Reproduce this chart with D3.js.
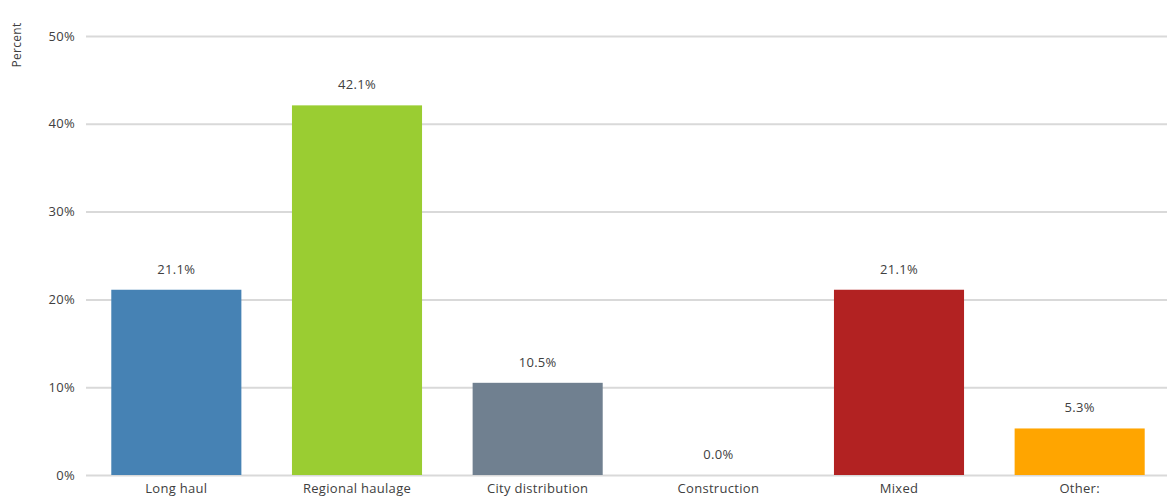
<!DOCTYPE html>
<html>
<head>
<meta charset="utf-8">
<script src="https://cdn.jsdelivr.net/npm/d3@7"></script>
<style>
  body { margin: 0; background: #fff; }
  svg text { font-family: "Open Sans", "Noto Sans", sans-serif; fill: #404040; letter-spacing: 0.3px; }
</style>
</head>
<body>
<svg id="chart" width="1167" height="498"></svg>
<script>
// Share of respondents by type of operation
const categories = ["Long haul", "Regional haulage", "City distribution", "Construction", "Mixed", "Other:"];
const values = [21.1, 42.1, 10.5, 0.0, 21.1, 5.3];
const colors = ["#4682B4", "#9ACD32", "#708090", "#DAA520", "#B22222", "#FFA500"];
const yTicks = [0, 10, 20, 30, 40, 50];

const svg = d3.select("#chart");
const margin = { left: 86, right: -3, top: 36, bottom: 23 };
const W = 1167, H = 498;

const x = d3.scaleBand()
  .domain(categories)
  .range([margin.left, W - margin.right])
  .paddingInner(0.28)
  .paddingOuter(0.14);

const y = d3.scaleLinear()
  .domain([0, 50])
  .range([H - margin.bottom, margin.top]);

// horizontal gridlines with percent labels
const yAxis = d3.axisLeft(y)
  .tickValues(yTicks)
  .tickFormat(d => d + "%")
  .tickSize(-(W - margin.right - margin.left))
  .tickPadding(11);

const gy = svg.append("g")
  .attr("transform", `translate(${margin.left},0)`)
  .call(yAxis);
gy.select(".domain").remove();
gy.selectAll(".tick line").attr("stroke", "#d9d9d9").attr("stroke-width", 2);
gy.selectAll(".tick text").style("font-size", "13px").attr("fill", "#404040");

// bars
svg.append("g").selectAll("rect")
  .data(categories)
  .join("rect")
  .attr("x", d => x(d))
  .attr("width", x.bandwidth())
  .attr("y", (d, i) => y(values[i]))
  .attr("height", (d, i) => y(0) - y(values[i]))
  .attr("fill", (d, i) => colors[i]);

// value labels above each bar
svg.append("g").selectAll("text")
  .data(categories)
  .join("text")
  .attr("x", d => x(d) + x.bandwidth() / 2)
  .attr("y", (d, i) => y(values[i]) - 16)
  .attr("text-anchor", "middle")
  .style("font-size", "13px")
  .text((d, i) => values[i].toFixed(1) + "%");

// category labels
const xAxis = d3.axisBottom(x).tickSize(0).tickPadding(9);
const gx = svg.append("g")
  .attr("transform", `translate(0,${y(0)})`)
  .call(xAxis);
gx.select(".domain").remove();
gx.selectAll(".tick text").style("font-size", "13px").attr("fill", "#202020");

// y-axis title
svg.append("text")
  .attr("transform", "translate(21,45) rotate(-90)")
  .attr("text-anchor", "middle")
  .style("font-size", "12px")
  .attr("fill", "#202020")
  .text("Percent");
</script>
</body>
</html>
